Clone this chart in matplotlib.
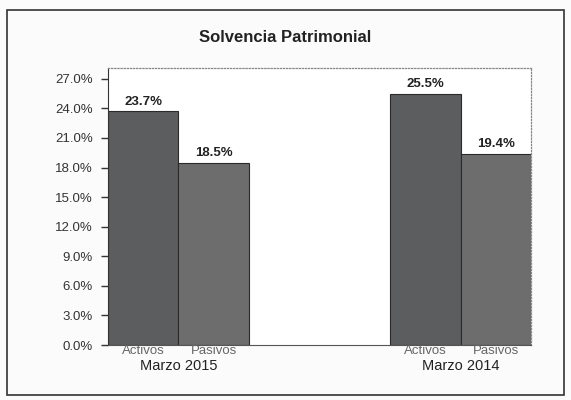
import matplotlib.pyplot as plt
from matplotlib.patches import Rectangle
from matplotlib.ticker import FuncFormatter, MultipleLocator

plt.rcParams['font.family'] = ['Liberation Sans', 'DejaVu Sans']

# data
PERIODS = ['Marzo 2015', 'Marzo 2014']
SERIES = ['Activos', 'Pasivos']
ACTIVOS = [23.7, 25.5]
PASIVOS = [18.5, 19.4]

COLORS = ['#5b5d5f', '#6d6d6d']

fig = plt.figure(figsize=(5.71, 4.0), dpi=100, facecolor='#fbfbfc')
fig.patches.append(Rectangle((0.012, 0.012), 0.975, 0.963, transform=fig.transFigure,
                             fill=False, edgecolor='#333333', linewidth=1.2))

ax = fig.add_axes([0.189, 0.1375, 0.741, 0.6925])
ax.set_facecolor('white')

# six slots: 2 bars, 2 empty, 2 bars (gap width 0 like the original)
slot = {0: 0, 1: 4}
for g, period in enumerate(PERIODS):
    vals = [ACTIVOS[g], PASIVOS[g]]
    for k, v in enumerate(vals):
        x = slot[g] + k
        ax.bar(x, v, width=1.0, align='edge', color=COLORS[k],
               edgecolor='#2a2a2a', linewidth=0.8)
        ax.text(x + 0.5, v + 0.35, '%.1f%%' % v, ha='center', va='bottom',
                fontsize=9.5, fontweight='bold', color='#222222')
        ax.text(x + 0.5, -0.05, SERIES[k], ha='center', va='top',
                fontsize=9.5, color='#666666')
    ax.text(slot[g] + 1, -1.45, period, ha='center', va='top',
            fontsize=10.5, color='#222222')

ax.set_xlim(0, 6)
ax.set_ylim(0, 28.1)
ax.yaxis.set_major_locator(MultipleLocator(3))
ax.yaxis.set_major_formatter(FuncFormatter(lambda v, p: '%.1f%%' % v))
ax.tick_params(axis='y', labelsize=9.5, colors='#333333', length=5, width=1, pad=6)
ax.set_xticks([])

ax.spines['left'].set_color('#333333')
ax.spines['bottom'].set_color('#555555')
for s in ['top', 'right']:
    ax.spines[s].set_linestyle((0, (1, 1.5)))
    ax.spines[s].set_color('#888888')
    ax.spines[s].set_linewidth(0.9)

fig.text(0.5, 0.905, 'Solvencia Patrimonial', ha='center', va='center',
         fontsize=12, fontweight='bold', color='#222222')

fig.savefig('out.png', dpi=100, facecolor=fig.get_facecolor())
